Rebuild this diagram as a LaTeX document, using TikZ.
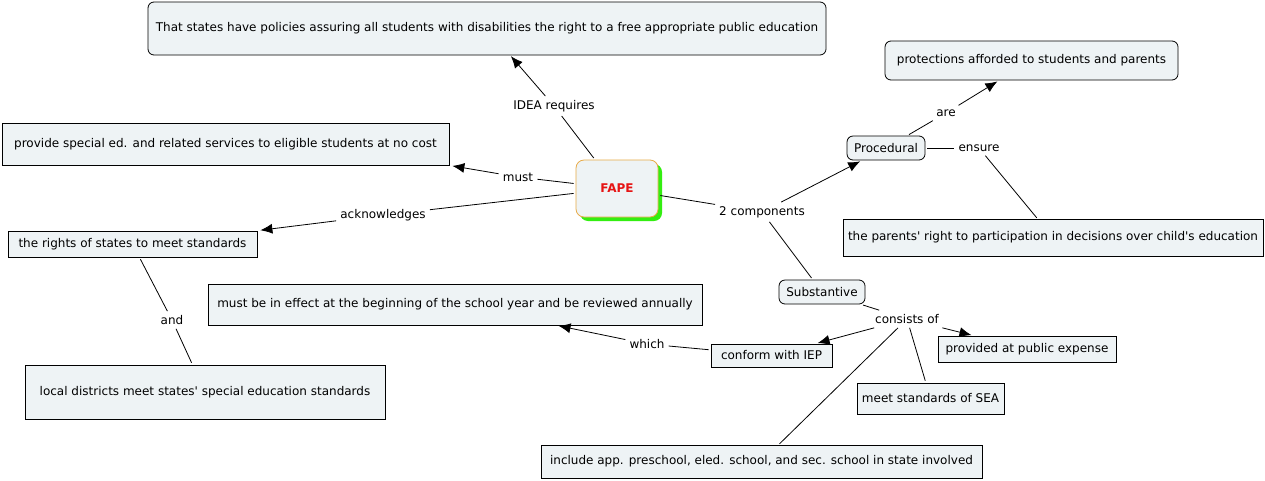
\documentclass[tikz,border=0pt]{standalone}
\usepackage{fontspec}
\setmainfont{DejaVu Sans}[Ligatures=TeXOff]
\usetikzlibrary{arrows.meta,shadows}
\definecolor{boxfill}{RGB}{238,243,245}
\definecolor{fapeborder}{RGB}{232,170,70}
\definecolor{fapeshadow}{RGB}{51,238,17}
\definecolor{fapetext}{RGB}{230,20,20}
\tikzset{
  concept/.style={draw=black, fill=boxfill, line width=0.8pt, inner sep=0pt, font=\fontsize{12}{14}\selectfont, align=center},
  rconcept/.style={concept, rounded corners=6pt},
  lbl/.style={fill=white, inner sep=4pt, font=\fontsize{12}{14}\selectfont},
  conn/.style={draw=black, line width=0.8pt},
  arr/.style={conn, -{Latex[length=12pt,width=10pt]}},
}
\begin{document}
\begin{tikzpicture}[x=1pt,y=-1pt]
\useasboundingbox (0,0) rectangle (1265,480);
\fill[white] (0,0) rectangle (1265,480);
% concepts
\node[rconcept, minimum width=678pt, minimum height=53pt] (top) at (487,28.5) {That states have policies assuring all students with disabilities the right to a free appropriate public education};
\node[rconcept, minimum width=293pt, minimum height=39pt] (prot) at (1031.5,60.5) {protections afforded to students and parents};
\node[concept, minimum width=447pt, minimum height=42pt] (prov) at (225.5,144) {provide special ed. and related services to eligible students at no cost};
\node[concept, draw=fapeborder, rounded corners=8pt, minimum width=82pt, minimum height=57pt, font=\fontsize{12}{14}\selectfont\bfseries, text=fapetext, drop shadow={fill=fapeshadow, opacity=1, shadow xshift=4pt, shadow yshift=-4pt}] (fape) at (617,188.5) {FAPE};
\node[rconcept, minimum width=78pt, minimum height=24pt] (proc) at (886,148) {Procedural};
\node[concept, minimum width=420pt, minimum height=37pt] (par) at (1053,237.5) {the parents' right to participation in decisions over child's education};
\node[concept, minimum width=249pt, minimum height=26pt] (rights) at (132.5,244) {the rights of states to meet standards};
\node[rconcept, minimum width=86pt, minimum height=24pt] (subs) at (822,292) {Substantive};
\node[concept, minimum width=494pt, minimum height=41pt] (effect) at (455,304.5) {must be in effect at the beginning of the school year and be reviewed annually};
\node[concept, minimum width=121pt, minimum height=23pt] (iep) at (771.5,355.5) {conform with IEP};
\node[concept, minimum width=178pt, minimum height=26pt] (pub) at (1027,349) {provided at public expense};
\node[concept, minimum width=360pt, minimum height=54pt] (local) at (205,392) {local districts meet states' special education standards};
\node[concept, minimum width=147pt, minimum height=31pt] (sea) at (930.5,398.5) {meet standards of SEA};
\node[concept, minimum width=441pt, minimum height=33pt] (incl) at (761.5,461.5) {include app. preschool, eled. school, and sec. school in state involved};
% labels
\node[lbl] (idea) at (554,106) {IDEA requires};
\node[lbl] (must) at (518,177) {must};
\node[lbl] (ack) at (383,215) {acknowledges};
\node[lbl] (comp) at (762,212) {2 components};
\node[lbl] (are) at (946,113) {are};
\node[lbl] (ens) at (979,148) {ensure};
\node[lbl] (and) at (172,320) {and};
\node[lbl] (cons) at (907,319) {consists of};
\node[lbl] (which) at (647,344) {which};
% connectors
\draw[conn, shorten <=2pt] (fape) -- (idea);
\draw[arr, shorten >=1pt] (idea) -- (top);
\draw[conn, shorten <=2pt] (fape) -- (must);
\draw[arr, shorten >=3pt] (must) -- (prov.south east);
\draw[conn, shorten <=2pt] (fape) -- (ack);
\draw[arr, shorten >=3pt] (ack) -- (rights.north east);
\draw[conn, shorten <=2pt] (fape) -- (comp);
\draw[arr, shorten >=2pt] (comp) -- (proc);
\draw[conn, shorten >=2pt] (comp) -- (subs);
\draw[conn, shorten <=2pt] (proc) -- (are);
\draw[arr, shorten >=2pt] (are) -- (prot);
\draw[conn, shorten <=2pt] (proc) -- (ens);
\draw[conn, shorten >=1pt] (ens) -- (par);
\draw[conn, shorten <=2pt] (rights) -- (and);
\draw[conn, shorten >=2pt] (and) -- (local);
\draw[conn, shorten <=2pt] (subs) -- (cons);
\draw[arr, shorten >=2pt] (cons) -- (iep);
\draw[arr, shorten >=2pt] (cons) -- (pub);
\draw[conn, shorten >=2pt] (cons) -- (sea);
\draw[conn, shorten >=1pt] (cons) -- (incl);
\draw[conn, shorten <=2pt] (iep) -- (which);
\draw[arr, shorten >=2pt] (which) -- (effect);
\end{tikzpicture}
\end{document}
